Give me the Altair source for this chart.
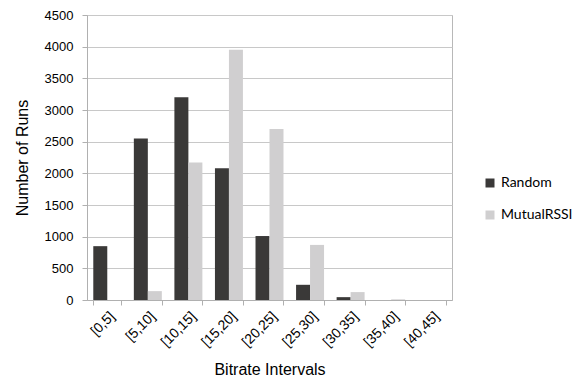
import altair as alt
import pandas as pd

categories = ["[0,5]", "[5,10]", "[10,15]", "[15,20]", "[20,25]", "[25,30]", "[30,35]", "[35,40]", "[40,45]"]
random_vals = [850, 2550, 3200, 2080, 1010, 240, 45, 0, 0]
mutual_vals = [0, 140, 2170, 3950, 2700, 870, 125, 10, 0]
series = ["Random", "MutualRSSI"]
colors = ["#3a3938", "#d0cfd0"]

rows = []
for c, r, m in zip(categories, random_vals, mutual_vals):
    rows.append({"interval": c, "series": "Random", "runs": r})
    rows.append({"interval": c, "series": "MutualRSSI", "runs": m})
df = pd.DataFrame(rows)

font = "Liberation Sans"

chart = alt.Chart(df).mark_bar().encode(
    x=alt.X("interval:N", sort=categories,
            scale=alt.Scale(paddingInner=0.31, paddingOuter=0.155),
            axis=alt.Axis(title="Bitrate Intervals", labelAngle=-45, tickBand="extent",
                          tickSize=5, labelFontSize=14, labelFont=font, labelColor="#000000",
                          titleFont=font, titleFontSize=16, titleFontWeight="normal",
                          titleColor="#000000", domainColor="#b0b0b0", tickColor="#b0b0b0",
                          labelPadding=4, titlePadding=12, grid=False)),
    xOffset=alt.XOffset("series:N", sort=series, scale=alt.Scale(paddingInner=0, paddingOuter=0)),
    y=alt.Y("runs:Q", scale=alt.Scale(domain=[0, 4500], nice=False),
            axis=alt.Axis(title="Number of Runs", values=list(range(0, 4501, 500)), format="d",
                          tickSize=5, labelFontSize=13, labelFont=font, labelColor="#000000",
                          labelPadding=9, titleFont=font, titleFontSize=16,
                          titleFontWeight="normal", titleColor="#000000", titlePadding=14,
                          domainColor="#b0b0b0", tickColor="#b0b0b0",
                          gridColor="#c8c8c8", grid=True)),
    color=alt.Color("series:N", sort=series,
                    scale=alt.Scale(domain=series, range=colors),
                    legend=alt.Legend(title=None, orient="none", legendX=396, legendY=161,
                                      symbolType="square", symbolSize=81, symbolStrokeWidth=0,
                                      labelFont="Lato", labelFontSize=14, labelColor="#000000",
                                      rowPadding=18, labelOffset=4)),
).properties(
    width=365, height=285,
    autosize=alt.AutoSizeParams(type="none"),
    padding={"left": 79, "top": 7, "right": 120, "bottom": 81},
).configure_view(stroke="#b8b8b8", strokeWidth=1)

chart.save("out.html", embed_options={"renderer": "svg", "actions": False})
